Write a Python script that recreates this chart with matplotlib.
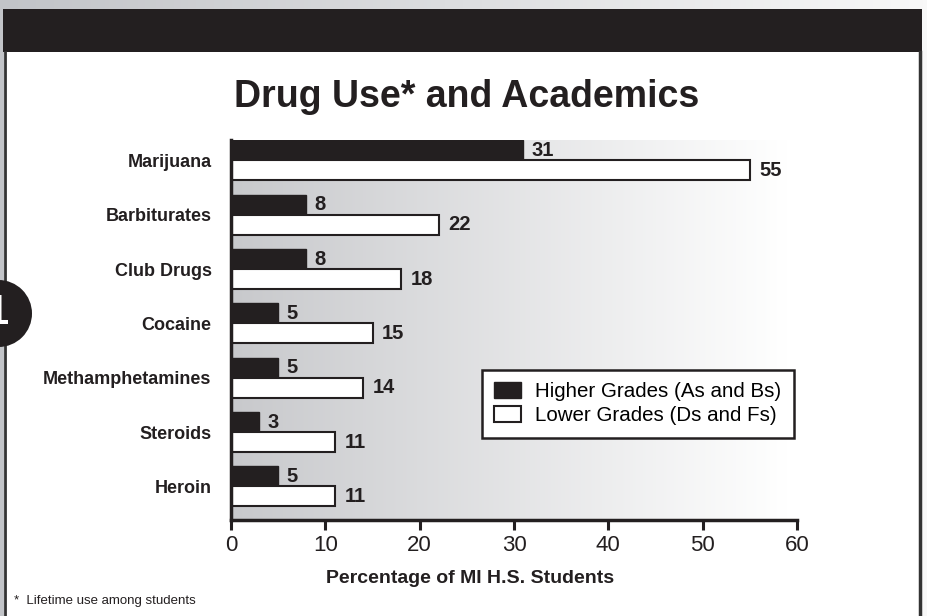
import numpy as np
import matplotlib
matplotlib.use("Agg")
import matplotlib.pyplot as plt
from matplotlib.patches import Rectangle, Circle, Patch
from matplotlib.colors import LinearSegmentedColormap

plt.rcParams['font.family'] = ['Liberation Sans', 'DejaVu Sans']

categories = ["Marijuana", "Barbiturates", "Club Drugs", "Cocaine",
              "Methamphetamines", "Steroids", "Heroin"]
higher = [31, 8, 8, 5, 5, 3, 5]
lower = [55, 22, 18, 15, 14, 11, 11]
series_names = ["Higher Grades (As and Bs)", "Lower Grades (Ds and Fs)"]
xticks = [0, 10, 20, 30, 40, 50, 60]
title = "Drug Use* and Academics"
xlabel = "Percentage of MI H.S. Students"
footnote = "*  Lifetime use among students"

W, H = 927, 616
fig = plt.figure(figsize=(W / 100, H / 100), dpi=100)

# background layer in pixel coords
bg = fig.add_axes([0, 0, 1, 1], zorder=-10)
bg.set_xlim(0, W)
bg.set_ylim(H, 0)
bg.axis('off')
grad = np.linspace(0, 1, 256)[None, :]
cm_out = LinearSegmentedColormap.from_list('o', ['#c2c4c8', '#f8f8f8'])
bg.imshow(grad, cmap=cm_out, extent=[0, W, H, 0], aspect='auto', zorder=0)
bg.add_patch(Rectangle((4, 52), 917, H, facecolor='white', edgecolor='none', zorder=1))
bg.add_patch(Rectangle((3, 9), 919, 43, facecolor='#231f20', edgecolor='none', zorder=2))
bg.plot([5, 5], [52, H], color='#333333', lw=2.0, zorder=3)
bg.plot([920.5, 920.5], [52, H], color='#333333', lw=2.5, zorder=3)
bg.add_patch(Circle((-1.5, 313.5), 33.5, facecolor='#231f20', edgecolor='none', zorder=4))
bg.text(8, 313.5, "1", color='white', fontsize=30, fontweight='bold',
        ha='right', va='center', zorder=5)

# main axes
ax = fig.add_axes([231 / W, 1 - 520 / H, 566 / W, 380 / H])
ax.set_xlim(0, 60)
ax.set_ylim(6.617, -0.377)
cm_in = LinearSegmentedColormap.from_list('i', ['#c8c9cc', '#ffffff'])
ax.imshow(np.linspace(0, 1, 256)[None, :], cmap=cm_in, extent=[0, 59, 6.617, -0.377],
          aspect='auto', zorder=0)
ax.set_facecolor('white')

y = np.arange(len(categories))
h = 0.368
ax.barh(y - h / 2, higher, height=h, color='#231f20', edgecolor='#231f20', lw=1.0, zorder=2,
        label=series_names[0])
ax.barh(y + h / 2, lower, height=h, color='white', edgecolor='#231f20', lw=1.5, zorder=2,
        label=series_names[1])

for yi, v in zip(y, higher):
    ax.annotate(str(v), (v, yi - h / 2), xytext=(6, 0), textcoords='offset points',
                ha='left', va='center', fontsize=14.5, fontweight='bold', color='#231f20')
for yi, v in zip(y, lower):
    ax.annotate(str(v), (v, yi + h / 2), xytext=(7, 0), textcoords='offset points',
                ha='left', va='center', fontsize=14.5, fontweight='bold', color='#231f20')

for s in ['top', 'right']:
    ax.spines[s].set_visible(False)
for s in ['left', 'bottom']:
    ax.spines[s].set_linewidth(2.5)
    ax.spines[s].set_color('#231f20')

ax.set_xticks(xticks)
ax.set_xticklabels([str(t) for t in xticks])
ax.tick_params(axis='x', direction='out', length=7, width=2.2, pad=4,
               labelsize=16, colors='#231f20')
ax.set_yticks(y)
ax.set_yticklabels(categories, fontsize=13, fontweight='bold', color='#231f20')
ax.tick_params(axis='y', length=0, pad=14)

leg = ax.legend(handles=[Patch(facecolor='#231f20', edgecolor='#231f20'),
                         Patch(facecolor='white', edgecolor='#231f20', lw=1.5)],
                labels=series_names, loc='upper left',
                bbox_to_anchor=((482 - 231) / 566, (520 - 370) / 380),
                fancybox=False, framealpha=1, edgecolor='#231f20', fontsize=14.8,
                handlelength=1.3, handleheight=0.8, handletextpad=0.7,
                borderpad=0.6, labelspacing=0.25, borderaxespad=0)
leg.get_frame().set_linewidth(1.8)

fig.text(467 / W, 1 - 107 / H, title, ha='center', va='baseline', fontsize=27,
         fontweight='bold', color='#231f20')
fig.text(470 / W, 1 - 583 / H, xlabel, ha='center', va='baseline', fontsize=14,
         fontweight='bold', color='#231f20')
fig.text(14 / W, 1 - 604 / H, footnote, ha='left', va='baseline', fontsize=9.5,
         color='#231f20')

fig.savefig("out.png", dpi=100)
